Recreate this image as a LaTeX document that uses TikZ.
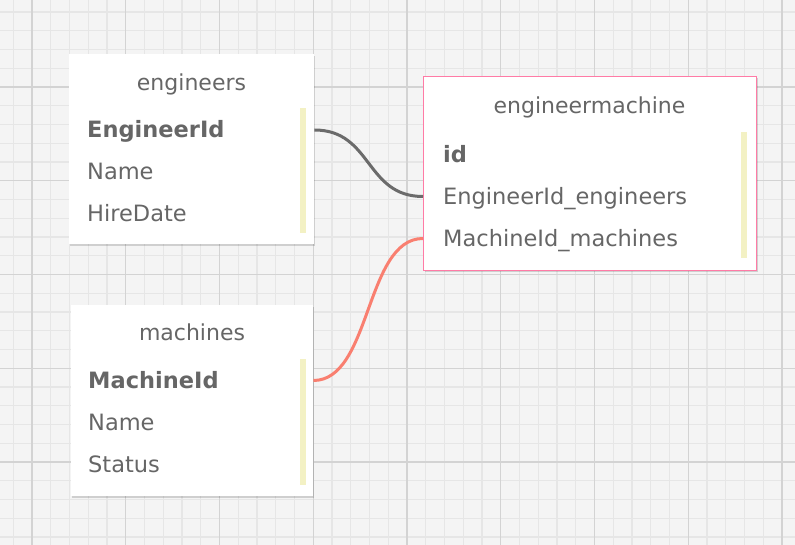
\documentclass[tikz,border=0pt]{standalone}
\usepackage{fontspec}
\setmainfont{DejaVu Sans}
\usetikzlibrary{shadows}
\definecolor{Ink}{HTML}{666666}
\definecolor{Paper}{HTML}{F4F4F4}
\definecolor{Minor}{HTML}{E6E6E6}
\definecolor{Major}{HTML}{D3D3D3}
\definecolor{Pink}{HTML}{FF7BA6}
\definecolor{Straw}{HTML}{F3F1C4}
\definecolor{Salmon}{HTML}{F97F70}
\definecolor{Wire}{HTML}{6B6B6B}

\begin{document}
\begin{tikzpicture}[x=1pt,y=-1pt,
    table/.style={fill=white,anchor=north west,inner sep=0pt,drop shadow={shadow xshift=1pt,shadow yshift=-2pt,opacity=0.15,fill=black}},
    title/.style={anchor=base,inner sep=0pt,text=Ink,font=\fontsize{22}{26}\selectfont},
    field/.style={anchor=base west,inner sep=0pt,text height=16pt,text depth=0pt,text=Ink,font=\fontsize{22.5}{26}\selectfont},
    key/.style={field,font=\fontsize{22.5}{26}\selectfont\bfseries},
    bar/.style={fill=Straw,anchor=north west,inner sep=0pt,minimum width=6pt},
    link/.style={line width=3pt}]
    \useasboundingbox (0,0) rectangle (795,545);
    \clip (0,0) rectangle (795,545);
    % grid background
    \fill[Paper] (0,0) rectangle (795,545);
    \foreach \k in {-1,...,41} \draw[Minor,line width=1.3pt] ({32+18.75*\k},0) -- ({32+18.75*\k},545);
    \foreach \k in {1,...,29} \draw[Minor,line width=1.3pt] (0,{-6.75+18.75*\k}) -- (795,{-6.75+18.75*\k});
    \foreach \k in {0,...,8} \draw[Major,line width=1.4pt] ({32+93.75*\k},0) -- ({32+93.75*\k},545);
    \foreach \k in {1,...,5} \draw[Major,line width=1.4pt] (0,{-6.75+93.75*\k}) -- (795,{-6.75+93.75*\k});
    % tables
    \node[table,minimum width=245pt,minimum height=190pt] (engineers) at (69,54) {};
    \node[table,minimum width=242pt,minimum height=191pt] (machines) at (71,305) {};
    \node[table,draw=Pink,line width=1pt,minimum width=333pt,minimum height=194pt] (engineermachine) at (423,76) {};
    \node[bar,minimum height=125pt] (engineersBar) at (300,108) {};
    \node[bar,minimum height=126pt] (machinesBar) at (300,359) {};
    \node[bar,minimum height=126pt] (engineermachineBar) at (741,132) {};
    % engineers
    \node[title] (engineersTitle) at (191.5,90.5) {engineers};
    \node[key] (engineerId) at (87,138) {EngineerId};
    \node[field] (engineerName) at (87,180) {Name};
    \node[field] (engineerHire) at (87,222) {HireDate};
    % machines
    \node[title] (machinesTitle) at (192,340.5) {machines};
    \node[key] (machineId) at (88,388.5) {MachineId};
    \node[field] (machineName) at (88,430.5) {Name};
    \node[field] (machineStatus) at (88,472.5) {Status};
    % engineermachine
    \node[title] (engineermachineTitle) at (589.5,113.5) {engineermachine};
    \node[key] (emId) at (443,162.5) {id};
    \node[field] (emEngineer) at (443,204.5) {EngineerId\_engineers};
    \node[field] (emMachine) at (443,246.5) {MachineId\_machines};
    % relations
    \draw[link,Wire] (engineers.east |- engineerId) .. controls +(58,0) and +(-58,0) .. (engineermachine.west |- emEngineer);
    \draw[link,Salmon] (machines.east |- machineId) .. controls +(58,0) and +(-58,0) .. (engineermachine.west |- emMachine);
\end{tikzpicture}
\end{document}
